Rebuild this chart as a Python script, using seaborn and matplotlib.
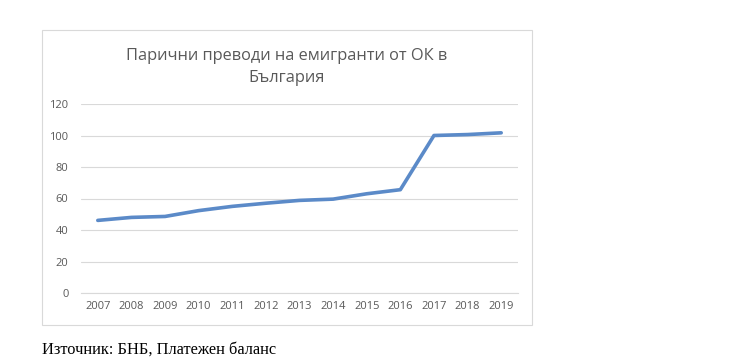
import matplotlib
matplotlib.use("Agg")
import matplotlib.pyplot as plt
import seaborn as sns
import pandas as pd
from matplotlib.patches import Rectangle

years = [2007, 2008, 2009, 2010, 2011, 2012, 2013, 2014, 2015, 2016, 2017, 2018, 2019]
values = [46.1, 48.0, 48.6, 52.3, 55.0, 57.0, 58.8, 59.6, 63.0, 65.6, 100.0, 100.6, 101.7]
yticks = [0, 20, 40, 60, 80, 100, 120]
title = "Парични преводи на емигранти от ОК в\nБългария"
source = "Източник: БНБ, Платежен баланс"

df = pd.DataFrame({"year": years, "value": values})

sns.set_style("white")
plt.rcParams['font.family'] = ['Open Sans', 'DejaVu Sans']

fig = plt.figure(figsize=(7.4, 3.6), dpi=100)
fig.patch.set_facecolor("white")

# chart border box
W, H = 740, 360
fig.patches.append(Rectangle((42 / W, 1 - 325 / H), (532 - 42) / W, (325 - 30) / H,
                             transform=fig.transFigure, fill=False,
                             edgecolor="#d9d9d9", linewidth=0.8))

ax = fig.add_axes([81 / W, 1 - 293 / H, (518 - 81) / W, (293 - 104) / H])
sns.lineplot(data=df, x="year", y="value", ax=ax, color="#5b8ac8", linewidth=2.6)

ax.set_xlim(2006.5, 2019.5)
ax.set_ylim(0, 120)
ax.set_xticks(years)
ax.set_xticklabels([str(y) for y in years])
ax.set_yticks(yticks)
ax.yaxis.grid(True, color="#d9d9d9", linewidth=0.8)
ax.set_axisbelow(True)
for s in ax.spines.values():
    s.set_visible(False)
ax.spines["bottom"].set_visible(True)
ax.spines["bottom"].set_color("#d9d9d9")
ax.spines["bottom"].set_linewidth(0.8)
ax.tick_params(axis="both", length=0, labelsize=8, colors="#595959", pad=6)
ax.tick_params(axis="y", pad=9)
ax.set_xlabel("")
ax.set_ylabel("")

fig.text(287 / W, 1 - 67 / H, title, ha="center", va="center", fontsize=11.8,
         color="#595959", linespacing=1.5)
fig.text(42 / W, 1 - 350 / H, source, ha="left", va="center", fontsize=11.8,
         color="#000000", family=["Liberation Serif", "DejaVu Serif"])

fig.savefig("out.png", dpi=100)
